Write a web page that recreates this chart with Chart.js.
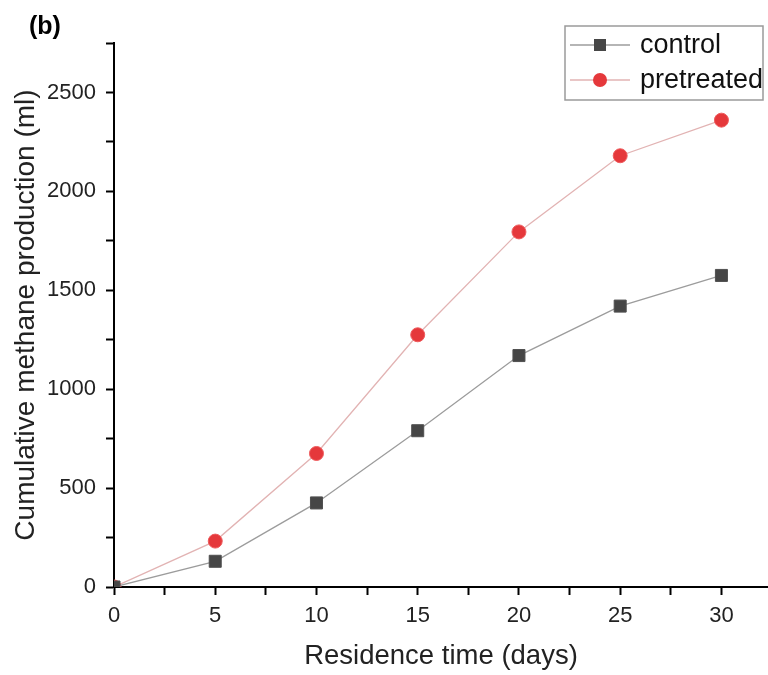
<!DOCTYPE html>
<html>
<head>
<meta charset="utf-8">
<script src="https://cdn.jsdelivr.net/npm/chart.js@4.4.0/dist/chart.umd.min.js"></script>
<style>
  html, body { margin: 0; padding: 0; background: #fff; overflow: hidden; }
  #wrap { position: relative; width: 768px; height: 675px; }
  canvas { display: block; }
  #tag { position: absolute; left: 29px; top: 11px; font: bold 25px "Liberation Sans", Arial, sans-serif; color: #000; }
</style>
</head>
<body>
<div id="wrap">
  <canvas id="myChart" width="768" height="675"></canvas>
  <div id="tag">(b)</div>
</div>
<script>
// residence time (days) and cumulative methane (ml)
const days = [0, 5, 10, 15, 20, 25, 30];
const control = [0, 130, 425, 790, 1170, 1420, 1575];
const pretreated = [0, 232, 675, 1275, 1795, 2180, 2360];

const xTicks = [0, 5, 10, 15, 20, 25, 30];
const yTicks = [0, 500, 1000, 1500, 2000, 2500];

const FONT = '"Liberation Sans", Arial, sans-serif';

const toPoints = (ys) => days.map((d, i) => ({ x: d, y: ys[i] }));

// major ticks plus a minor tick halfway between each pair
const withMinors = (majors, top) => {
    const step = majors[1] - majors[0];
    const out = [];
    for (let v = majors[0]; v <= top + 1e-9; v += step / 2) out.push({ value: v });
    return out;
};

// boxed legend in the upper right corner
const boxLegend = {
    id: "boxLegend",
    afterDraw(chart) {
        const c = chart.ctx;
        const x0 = 565, y0 = 26, w = 198, h = 74;
        c.save();
        c.strokeStyle = "#9a9a9a";
        c.lineWidth = 1.5;
        c.strokeRect(x0, y0, w, h);
        c.font = "27px " + FONT;
        c.textBaseline = "middle";
        chart.data.datasets.forEach((ds, i) => {
            const cy = y0 + 19 + i * 35;
            c.strokeStyle = ds.borderColor;
            c.lineWidth = 1.3;
            c.beginPath();
            c.moveTo(x0 + 5, cy);
            c.lineTo(x0 + 65, cy);
            c.stroke();
            c.fillStyle = ds.pointBackgroundColor;
            if (ds.pointStyle === "rect") {
                c.fillRect(x0 + 35 - 6, cy - 6, 12, 12);
            } else {
                c.beginPath();
                c.arc(x0 + 35, cy, 7, 0, Math.PI * 2);
                c.fill();
            }
            c.fillStyle = "#111";
            c.fillText(ds.label, x0 + 75, cy + 1);
        });
        c.restore();
    },
};

new Chart(document.getElementById("myChart"), {
    type: "line",
    data: {
        datasets: [
            {
                label: "control",
                data: toPoints(control),
                borderColor: "#9c9c9c",
                borderWidth: 1.3,
                pointStyle: "rect",
                pointRadius: 8.5,
                pointBackgroundColor: "#464646",
                pointBorderColor: "#505050",
                pointBorderWidth: 1,
            },
            {
                label: "pretreated",
                data: toPoints(pretreated),
                borderColor: "#e2b3b3",
                borderWidth: 1.3,
                pointStyle: "circle",
                pointRadius: 7,
                pointBackgroundColor: "#e5383b",
                pointBorderColor: "#ee5a5c",
                pointBorderWidth: 1,
            },
        ],
    },
    options: {
        responsive: false,
        animation: false,
        layout: { autoPadding: false, padding: { top: 43, left: 0, right: 0, bottom: 0 } },
        plugins: { legend: { display: false }, tooltip: { enabled: false } },
        scales: {
            x: {
                type: "linear",
                min: 0,
                max: 32.3,
                afterBuildTicks: (s) => { s.ticks = withMinors(xTicks, 30); },
                afterFit: (s) => {
                    s.height = 88;
                    s.paddingLeft = 0;
                    s.paddingRight = 0;
                },
                border: { color: "#000", width: 2 },
                grid: { drawOnChartArea: false, tickLength: 8, tickWidth: 2, tickColor: "#000" },
                ticks: {
                    autoSkip: false,
                    maxRotation: 0,
                    padding: 8,
                    color: "#222",
                    font: { family: FONT, size: 22 },
                    callback: (v) => (xTicks.includes(v) ? v : ""),
                },
                title: {
                    display: true,
                    text: "Residence time (days)",
                    color: "#222",
                    font: { family: FONT, size: 27.5 },
                    padding: { top: 0, bottom: 2 },
                },
            },
            y: {
                min: 0,
                max: 2750,
                afterBuildTicks: (s) => { s.ticks = withMinors(yTicks, 2750); },
                afterFit: (s) => { s.width = 114; },
                border: { color: "#000", width: 2 },
                grid: { drawOnChartArea: false, tickLength: 8, tickWidth: 2, tickColor: "#000" },
                ticks: {
                    autoSkip: false,
                    padding: 10,
                    color: "#222",
                    font: { family: FONT, size: 22 },
                    callback: (v) => (yTicks.includes(v) ? v : ""),
                },
                title: {
                    display: true,
                    text: "Cumulative methane production (ml)",
                    color: "#222",
                    font: { family: FONT, size: 28 },
                    padding: { top: 9, bottom: 0 },
                },
            },
        },
    },
    plugins: [boxLegend],
});
</script>
</body>
</html>
